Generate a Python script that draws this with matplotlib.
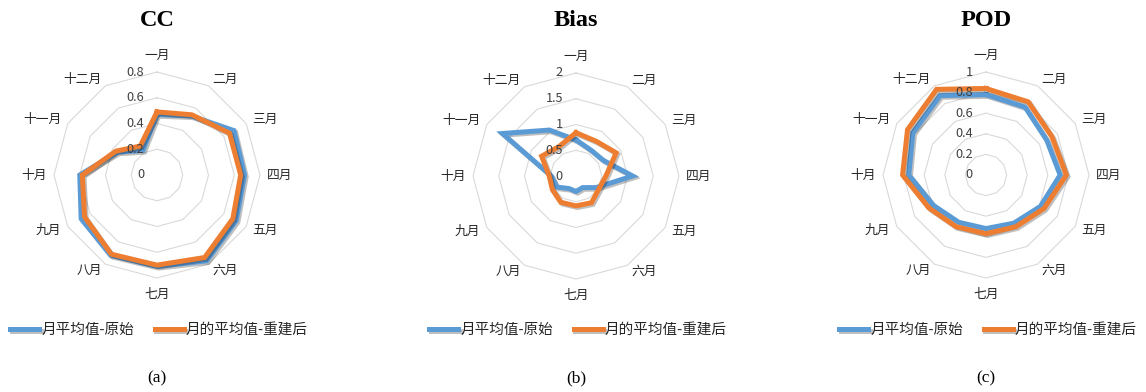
import numpy as np
import matplotlib
matplotlib.use("Agg")
import matplotlib.pyplot as plt
import matplotlib.patheffects as pe

plt.rcParams['font.family'] = ['Noto Sans CJK SC', 'DejaVu Sans']

months = ['一月', '二月', '三月', '四月', '五月', '六月',
          '七月', '八月', '九月', '十月', '十一月', '十二月']
series_names = ['月平均值-原始', '月的平均值-重建后']

# monthly scores, original vs reconstructed
cc_orig = [0.47, 0.53, 0.69, 0.68, 0.71, 0.77, 0.71, 0.72, 0.68, 0.60, 0.355, 0.22]
cc_rec = [0.49, 0.54, 0.65, 0.65, 0.68, 0.74, 0.70, 0.71, 0.65, 0.58, 0.37, 0.26]
bias_orig = [0.70, 0.58, 0.61, 1.10, 0.45, 0.26, 0.30, 0.28, 0.43, 0.48, 1.65, 1.03]
bias_rec = [0.84, 0.78, 0.90, 0.58, 0.51, 0.60, 0.58, 0.59, 0.53, 0.52, 0.77, 0.66]
pod_orig = [0.78, 0.76, 0.68, 0.72, 0.61, 0.54, 0.52, 0.53, 0.59, 0.75, 0.82, 0.89]
pod_rec = [0.84, 0.82, 0.74, 0.78, 0.65, 0.58, 0.57, 0.58, 0.64, 0.81, 0.88, 0.96]

cc_ticks = [0, 0.2, 0.4, 0.6, 0.8]
bias_ticks = [0, 0.5, 1, 1.5, 2]
pod_ticks = [0, 0.2, 0.4, 0.6, 0.8, 1]

W, H = 1146, 392
BLUE = '#5B9BD5'
ORANGE = '#ED7D31'
GRID = '#D9D9D9'
TXT = '#404040'

fig = plt.figure(figsize=(W / 100, H / 100), dpi=100)

angles = np.arange(12) * 2 * np.pi / 12
closed = np.append(angles, angles[0])
R = 103  # outer ring radius in pixels


def radar(cx, cy, title, caption, ticks, orig, rec, ticklabels):
    rmax = ticks[-1]
    ax = fig.add_axes([(cx - R) / W, (H - cy - R) / H, 2 * R / W, 2 * R / H],
                      projection='polar')
    ax.set_theta_zero_location('N')
    ax.set_theta_direction(-1)
    ax.set_ylim(0, rmax)
    ax.set_axis_off()

    for r in ticks[1:]:
        ax.plot(closed, [r] * 13, color=GRID, lw=0.8, clip_on=False, zorder=1)

    for r, s in zip(ticks, ticklabels):
        ax.annotate(s, xy=(0, r), xytext=(-13, 0), textcoords='offset pixels',
                    ha='right', va='center', fontsize=9.2, color=TXT, zorder=5)

    shadow = [pe.SimpleLineShadow(offset=(1.2, -1.2), alpha=0.25), pe.Normal()]
    handles = []
    for vals, col in [(orig, BLUE), (rec, ORANGE)]:
        v = np.append(vals, vals[0])
        ln, = ax.plot(closed, v, color=col, lw=3.6, solid_joinstyle='miter',
                      clip_on=False, zorder=3, path_effects=shadow)
        handles.append(ln)

    for a, m in zip(angles, months):
        s, c = np.sin(a), np.cos(a)
        if abs(s) < 1e-6:
            ha = 'center'
            va = 'bottom' if c > 0 else 'top'
            rr = 1.1
        else:
            ha = 'left' if s > 0 else 'right'
            va = 'center'
            rr = 1.07
        ax.text(a, rr * rmax, m, ha=ha, va=va, fontsize=9.2, color='#262626')

    fig.text(cx / W, 1 - 21 / H, title, ha='center', va='center',
             family='Liberation Serif', fontweight='bold', fontsize=17.5)
    fig.text(cx / W, 1 - 378 / H, caption, ha='center', va='center',
             family='Liberation Serif', fontsize=12.5)
    fig.legend(handles, series_names, loc='center',
               bbox_to_anchor=((cx + 2) / W, 1 - 330 / H), ncol=2, frameon=False,
               fontsize=10.5, handlelength=2.0, handletextpad=0.15,
               columnspacing=1.4, labelcolor='#262626')


radar(157, 175, 'CC', '(a)', cc_ticks, cc_orig, cc_rec,
      ['0', '0.2', '0.4', '0.6', '0.8'])
radar(576, 176, 'Bias', '(b)', bias_ticks, bias_orig, bias_rec,
      ['0', '0.5', '1', '1.5', '2'])
radar(986, 175, 'POD', '(c)', pod_ticks, pod_orig, pod_rec,
      ['0', '0.2', '0.4', '0.6', '0.8', '1'])

fig.savefig('out.png', dpi=100)
